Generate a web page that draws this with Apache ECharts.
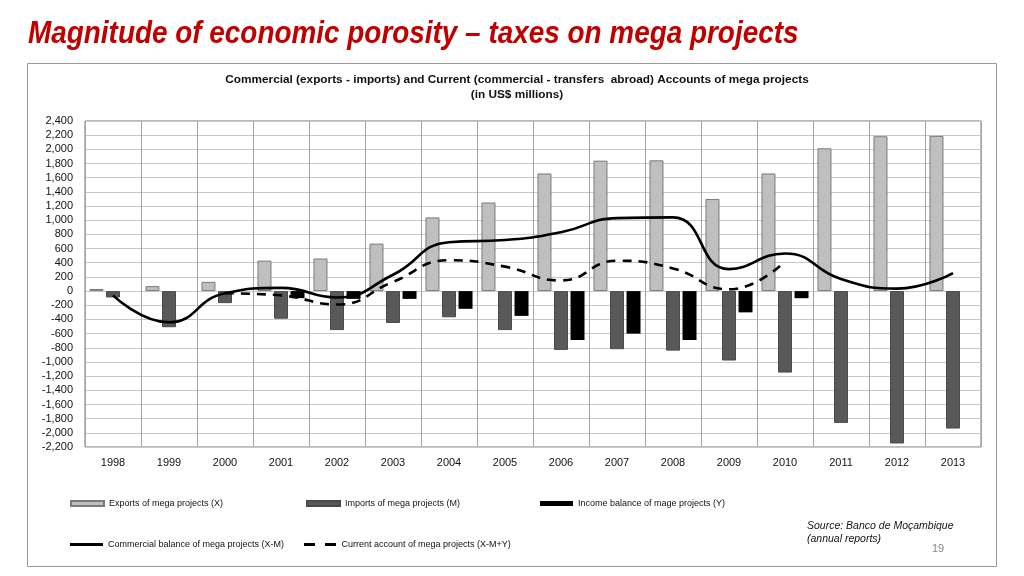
<!DOCTYPE html>
<html>
<head>
<meta charset="utf-8">
<script src="https://cdn.jsdelivr.net/npm/echarts@6/dist/echarts.min.js"></script>
<style>
html,body{margin:0;padding:0;background:#fff;}
#c{width:1024px;height:576px;}
</style>
</head>
<body>
<div id="c"></div>
<script>
const years = ['1998','1999','2000','2001','2002','2003','2004','2005','2006','2007','2008','2009','2010','2011','2012','2013'];
const exportsX = [30, 70, 130, 430, 460, 670, 1040, 1250, 1660, 1840, 1845, 1300, 1660, 2015, 2185, 2190];
const importsM = [-90, -510, -170, -390, -550, -450, -370, -550, -830, -820, -840, -980, -1150, -1860, -2150, -1940];
const incomeY = [null, null, null, -100, -110, -110, -250, -350, -690, -600, -690, -300, -100, null, null, null];
const commercialXM = [-60, -440, -30, 45, -90, 230, 690, 720, 830, 1030, 1040, 310, 530, 170, 35, 255];
const currentXMY = [null, null, -30, -60, -190, 130, 435, 345, 150, 428, 320, 25, 420, null, null, null];
const yTicks = {min: -2200, max: 2400, step: 200};

const names = {
  x: 'Exports of mega projects (X)',
  m: 'Imports of mega projects (M)',
  y: 'Income balance of mage projects (Y)',
  xm: 'Commercial balance of mega projects (X-M)',
  xmy: 'Current account of mega projects (X-M+Y)'
};

const FONT = 'Liberation Sans, Arial, sans-serif';

const chart = echarts.init(document.getElementById('c'));
const legendText = {fontFamily: FONT, fontSize: 9, color: '#111'};
function leg(name, left, top, extra) {
  return Object.assign({data: [name], left: left, top: top, icon: 'rect', itemWidth: 33, itemHeight: 5, itemGap: 4,
          textStyle: legendText, selectedMode: false, padding: 0}, extra || {});
}
chart.setOption({
  animation: false,
  backgroundColor: '#fff',
  title: [
    {text: 'Commercial (exports - imports) and Current (commercial - transfers  abroad) Accounts of mega projects\n(in US$ millions)',
     left: 512, textAlign: 'center', top: 67,
     textStyle: {fontFamily: FONT, fontSize: 11.8, fontWeight: 'bold', color: '#111', lineHeight: 15}}
  ],
  graphic: [
    {type: 'rect', shape: {x: 27.5, y: 63.5, width: 969, height: 503}, style: {fill: 'none', stroke: '#999', lineWidth: 1}, z: -1},
    {type: 'text', x: 28, y: 34, scaleX: 0.9,
     style: {text: 'Magnitude of economic porosity \u2013 taxes on mega projects', fontFamily: FONT, fontSize: 31,
             fontWeight: 'bold', fontStyle: 'italic', fill: '#c00000', verticalAlign: 'middle'}},
    {type: 'text', left: 807, top: 520, style: {text: 'Source: Banco de Mo\u00e7ambique\n(annual reports)', fontFamily: FONT, fontSize: 10.5, fontStyle: 'italic', fill: '#111', lineHeight: 13}},
    {type: 'text', left: 932, top: 543, style: {text: '19', fontFamily: FONT, fontSize: 11, fill: '#888'}}
  ],
  legend: [
    leg(names.x, 70, 499),
    leg(names.m, 306, 499),
    leg(names.y, 540, 499),
    leg(names.xm, 70, 540, {icon: 'rect', itemHeight: 3}),
    leg(names.xmy, 304, 540, {icon: 'path://M0,0H11V3H0Z M21,0H32V3H21Z', itemWidth: 33, itemHeight: 3})
  ],
  grid: {left: 85, right: 43, top: 121, bottom: 129, show: true, borderColor: '#777', borderWidth: 1},
  xAxis: {
    type: 'category', data: years, boundaryGap: true,
    axisLine: {show: false}, axisTick: {show: false},
    axisLabel: {fontFamily: FONT, fontSize: 11, color: '#111', margin: 10},
    splitLine: {show: true, interval: 0, lineStyle: {color: '#a6a6a6', width: 1}}
  },
  yAxis: {
    type: 'value', min: yTicks.min, max: yTicks.max, interval: yTicks.step,
    axisLine: {show: false}, axisTick: {show: false},
    axisLabel: {fontFamily: FONT, fontSize: 11, color: '#111', margin: 12,
      formatter: v => v.toLocaleString('en-US')},
    splitLine: {lineStyle: {color: '#c8c8c8', width: 1}}
  },
  series: [
    {name: names.x, type: 'bar', data: exportsX, barWidth: 14, barGap: '18%',
     itemStyle: {color: '#bfbfbf', borderColor: '#7a7a7a', borderWidth: 1}},
    {name: names.m, type: 'bar', data: importsM, barWidth: 14, barGap: '18%',
     itemStyle: {color: '#595959', borderColor: '#4a4a4a', borderWidth: 1}},
    {name: names.y, type: 'bar', data: incomeY, barWidth: 14, barGap: '18%',
     itemStyle: {color: '#000', borderColor: '#000', borderWidth: 0}},
    {name: names.xm, type: 'line', data: commercialXM, smooth: 0.5, symbol: 'none',
     lineStyle: {color: '#000', width: 2.6}, itemStyle: {color: '#000'}, z: 5},
    {name: names.xmy, type: 'line', data: currentXMY, smooth: 0.5, symbol: 'none',
     lineStyle: {color: '#000', width: 2.6, type: [9, 7]}, itemStyle: {color: '#000'}, z: 5}
  ]
});
</script>
</body>
</html>
